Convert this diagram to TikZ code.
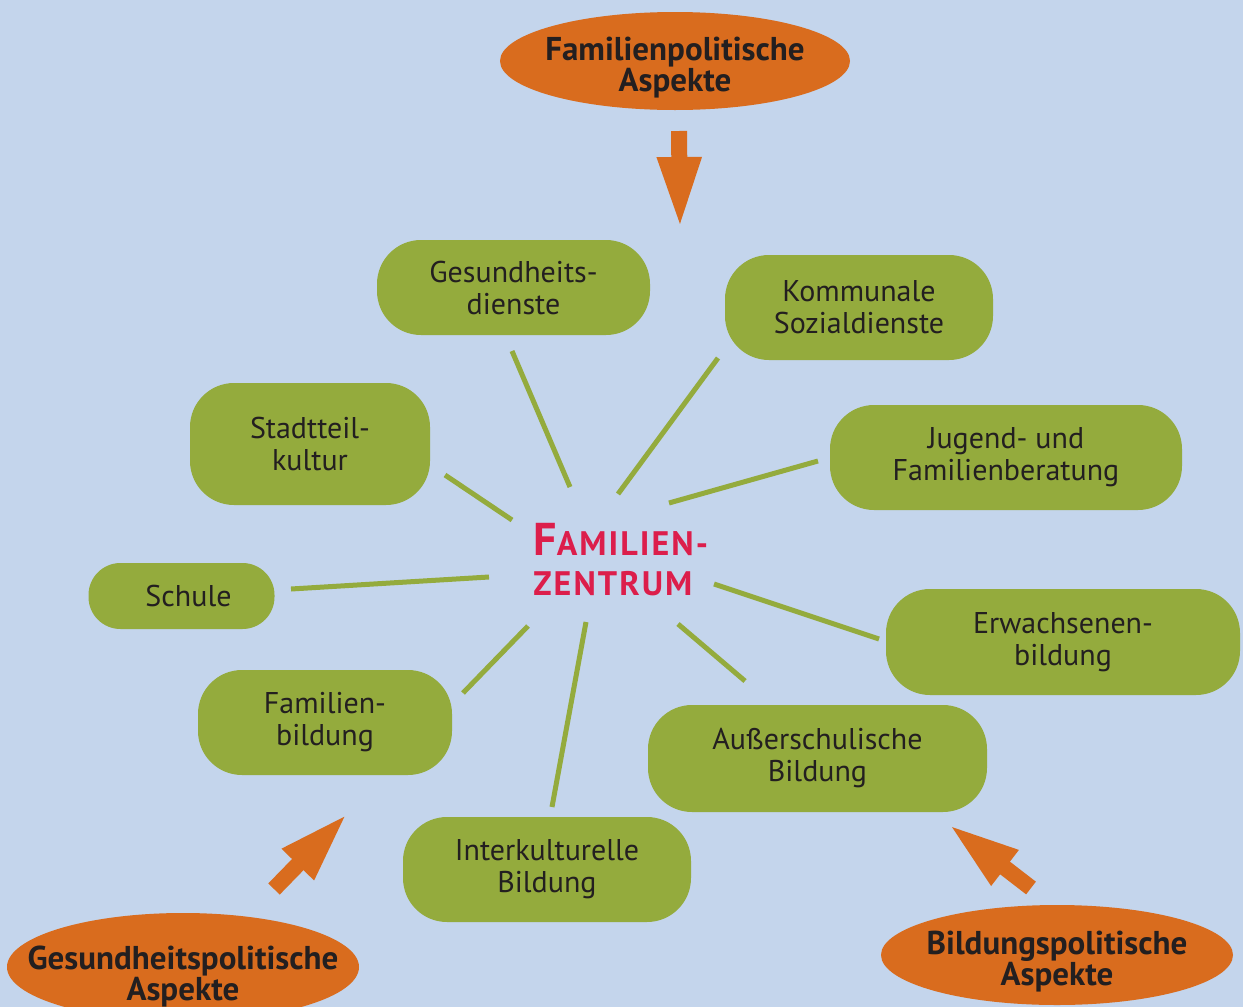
\documentclass[tikz,border=0pt]{standalone}
\usepackage{fontspec}
\setmainfont{PT Sans}
\usetikzlibrary{arrows.meta}

\definecolor{hgblau}{HTML}{C4D5EC}
\definecolor{feldgruen}{HTML}{94AB3D}
\definecolor{aspektorange}{HTML}{D96C1E}
\definecolor{zentrumrot}{HTML}{DC1E4B}
\definecolor{schrift}{HTML}{231F20}

\tikzset{
  feld/.style={fill=feldgruen, rounded corners=22pt, align=center, text=schrift,
    font=\fontsize{15}{16}\selectfont, inner sep=0pt},
  aspekt/.style={align=center, text=schrift, font=\fontsize{16.5}{15.5}\selectfont\bfseries, inner sep=0pt},
  speiche/.style={draw=feldgruen, line width=2.5pt},
  pfeil/.style={draw=aspektorange, line width=8pt, -{Triangle[width=20pt,length=36pt]}}
}

\begin{document}
\begin{tikzpicture}[x=0.5pt, y=-0.5pt]
  % background, page size 1243 x 1007 units
  \useasboundingbox (0,0) rectangle (1243,1007);
  \clip (0,0) rectangle (1243,1007);
  \fill[hgblau] (0,0) rectangle (1243,1007);

  % the three orange ellipses
  \coordinate (famp-m) at (675,61);
  \coordinate (gesp-m) at (183,967);
  \coordinate (bildp-m) at (1057,955);
  \fill[aspektorange] (famp-m) ellipse [x radius=87.5pt, y radius=24.5pt];
  \fill[aspektorange] (gesp-m) ellipse [x radius=88pt, y radius=27pt];
  \fill[aspektorange] (bildp-m) ellipse [x radius=88pt, y radius=25pt];
  \node[aspekt] (famp) at ([yshift=-3.5pt]famp-m) {Familienpolitische\\Aspekte};
  \node[aspekt] (gesp) at ([yshift=-5pt]gesp-m) {Gesundheitspolitische\\Aspekte};
  \node[aspekt] (bildp) at ([yshift=-3.5pt]bildp-m) {Bildungspolitische\\Aspekte};

  % green boxes
  \node[feld, minimum width=136.5pt, minimum height=47.5pt] (gesdienste) at (513.5,287.5) {Gesundheits-\\dienste};
  \node[feld, minimum width=134pt, minimum height=52.5pt] (komsozial) at (859,307.5) {Kommunale\\Sozialdienste};
  \node[feld, minimum width=120pt, minimum height=61pt] (stadtteil) at (310,444) {Stadtteil-\\kultur};
  \node[feld, minimum width=176pt, minimum height=52.5pt] (jugend) at (1006,457.5) {Jugend- und\\Familienberatung};
  \node[feld, minimum width=93pt, minimum height=33pt, rounded corners=16pt] (schule) at (181.5,596) {\hspace{7pt}Schule};
  \node[feld, minimum width=177pt, minimum height=53pt] (erwachsen) at (1063,642) {Erwachsenen-\\bildung};
  \node[feld, minimum width=127pt, minimum height=52.5pt] (fambildung) at (325,722.5) {Familien-\\bildung};
  \node[feld, minimum width=169.5pt, minimum height=53.5pt] (ausserschul) at (817.5,758.5) {Außerschulische\\Bildung};
  \node[feld, minimum width=144pt, minimum height=52.5pt] (interkult) at (547,869.5) {Interkulturelle\\Bildung};

  % centre label
  \node[align=left, text=zentrumrot, inner sep=0pt, anchor=west,
    font=\fontsize{17}{20}\selectfont\bfseries\addfontfeature{LetterSpace=6}] (zentrum) at (533,560)
    {{\fontsize{23}{20}\selectfont F}AMILIEN-\\ZENTRUM};

  % spokes around the centre
  \foreach \name/\ax/\ay/\bx/\by in {g/570/487/512/351, k/618/494/718/358, st/512/520/445/475,
      j/669/503/818/461, sch/489/577/291/589, e/714/584/879/639, f/528/626/463/693,
      a/678/624/745/681, i/586/622/552/807}{
    \coordinate (\name-innen) at (\ax,\ay);
    \coordinate (\name-aussen) at (\bx,\by);
    \draw[speiche] (\name-innen) -- (\name-aussen);
  }

  % orange arrows
  \coordinate (famp-fuss) at (679,131);
  \coordinate (famp-spitze) at (680,229);
  \coordinate (gesp-fuss) at (274,889);
  \coordinate (gesp-spitze) at (348,813);
  \coordinate (bildp-fuss) at (1031,888);
  \coordinate (bildp-spitze) at (948,824);
  \draw[pfeil] (famp-fuss) -- (famp-spitze);
  \draw[pfeil] (gesp-fuss) -- (gesp-spitze);
  \draw[pfeil] (bildp-fuss) -- (bildp-spitze);
\end{tikzpicture}
\end{document}
